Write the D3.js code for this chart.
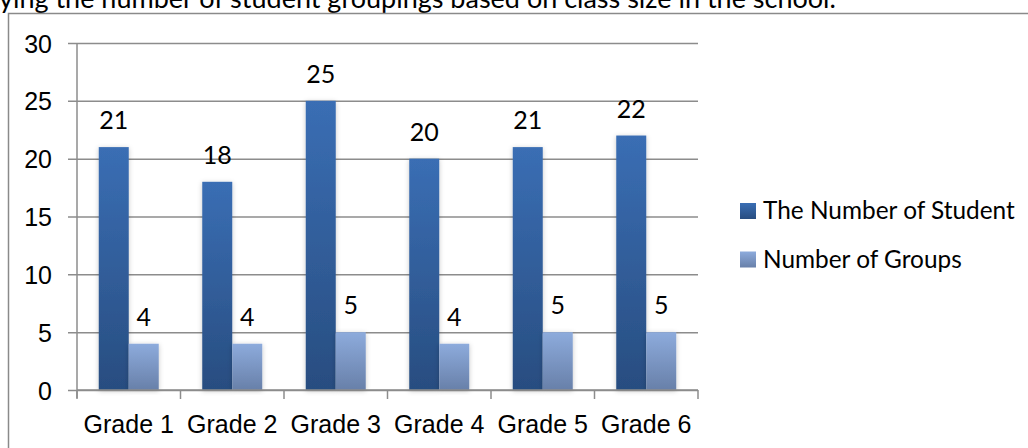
<!DOCTYPE html>
<html>
<head>
<meta charset="utf-8">
<script src="https://cdn.jsdelivr.net/npm/d3@7"></script>
<style>
  html, body { margin: 0; padding: 0; background: #fff; }
  svg { display: block; font-family: Lato, "Open Sans", sans-serif; }
  text { fill: #000; }
</style>
</head>
<body>
<div id="chart"></div>
<script>
// Clustered column chart: students vs groups per grade.
var grades = ["Grade 1", "Grade 2", "Grade 3", "Grade 4", "Grade 5", "Grade 6"];
var students = [21, 18, 25, 20, 21, 22];
var groups = [4, 4, 5, 4, 5, 5];
var seriesNames = ["The Number of Student", "Number of Groups"];
var yTicks = [0, 5, 10, 15, 20, 25, 30];
var caption = "ying the number of student groupings based on class size in the school.";

(function () {
  var W = 1028, H = 448;
  var plot = { left: 77, right: 698, top: 43, bottom: 390 };
  var FS = 25;

  var svg = d3.select("#chart").append("svg")
    .attr("width", W).attr("height", H);

  var defs = svg.append("defs");
  function grad(id, top, bottom) {
    var g = defs.append("linearGradient").attr("id", id)
      .attr("x1", 0).attr("y1", 0).attr("x2", 0).attr("y2", 1);
    g.append("stop").attr("offset", "0%").attr("stop-color", top);
    g.append("stop").attr("offset", "100%").attr("stop-color", bottom);
  }
  grad("g-dark", "#3a6eb4", "#284d80");
  grad("g-light", "#8dabdc", "#6880a9");
  var fills = ["url(#g-dark)", "url(#g-light)"];

  var f = defs.append("filter").attr("id", "shadow")
    .attr("x", "-30%").attr("y", "-10%").attr("width", "160%").attr("height", "120%");
  f.append("feDropShadow").attr("dx", 0).attr("dy", 1).attr("stdDeviation", 2.5)
    .attr("flood-color", "#000").attr("flood-opacity", 0.22);

  // caption line cut off above the chart frame
  svg.append("text").attr("x", -1).attr("y", 8)
    .style("font-size", "27px").text(caption);

  // chart frame
  svg.append("rect").attr("x", 8.5).attr("y", 13.5)
    .attr("width", W + 10).attr("height", H + 10)
    .attr("fill", "none").attr("stroke", "#8a8a8a").attr("stroke-width", 1.5);

  var x = d3.scaleBand().domain(grades).range([plot.left, plot.right]);
  var y = d3.scaleLinear().domain([0, 30]).range([plot.bottom, plot.top]);
  var barW = 30;
  var inner = d3.scaleBand().domain([0, 1]).range([0, barW * 2]);
  var pad = (x.bandwidth() - barW * 2) / 2;

  // gridlines + y axis
  var yAxis = d3.axisLeft(y).tickValues(yTicks)
    .tickSize(-(plot.right - plot.left)).tickPadding(16).tickFormat(d3.format("d"));
  var ga = svg.append("g").attr("transform", "translate(" + plot.left + ",0)").call(yAxis);
  ga.select(".domain").remove();
  ga.selectAll(".tick line").attr("stroke", "#8c8c8c").attr("stroke-width", 1.5)
    .attr("x1", -9);
  ga.selectAll(".tick text").style("font-size", FS + "px").attr("fill", "#000")
    .attr("font-family", null).attr("dy", "0.36em").attr("x", -25);

  svg.append("line").attr("x1", plot.left).attr("x2", plot.left)
    .attr("y1", plot.top).attr("y2", plot.bottom + 8)
    .attr("stroke", "#8c8c8c").attr("stroke-width", 1.5);

  // bars
  var series = [students, groups];
  series.forEach(function (vals, si) {
    svg.append("g").selectAll("rect").data(vals).join("rect")
      .attr("x", function (d, i) { return x(grades[i]) + pad + inner(si); })
      .attr("width", barW)
      .attr("y", function (d) { return y(d); })
      .attr("height", function (d) { return y(0) - y(d); })
      .attr("fill", fills[si])
      .attr("filter", "url(#shadow)");
  });
  series.forEach(function (vals, si) {
    svg.append("g").selectAll("text").data(vals).join("text")
      .attr("x", function (d, i) { return x(grades[i]) + pad + inner(si) + barW / 2; })
      .attr("y", function (d) { return y(d) - 18; })
      .attr("text-anchor", "middle")
      .style("font-size", FS + "px")
      .text(function (d) { return d; });
  });

  // x axis
  var xAxis = d3.axisBottom(x).tickSize(0).tickPadding(0);
  var gx = svg.append("g").attr("transform", "translate(0," + plot.bottom + ")").call(xAxis);
  gx.select(".domain").attr("stroke", "#8c8c8c").attr("stroke-width", 1.5)
    .attr("d", "M" + plot.left + ",0H" + plot.right);
  gx.selectAll(".tick text").style("font-size", FS + "px").attr("fill", "#000")
    .attr("font-family", null).attr("y", 43).attr("dy", 0);
  var bounds = grades.map(function (g) { return x(g); }).concat([plot.right]);
  gx.selectAll(".bound").data(bounds).join("line").attr("class", "bound")
    .attr("x1", function (d) { return d; }).attr("x2", function (d) { return d; })
    .attr("y1", 0).attr("y2", 9)
    .attr("stroke", "#8c8c8c").attr("stroke-width", 1.5);

  // legend
  var lg = svg.append("g").attr("transform", "translate(740,203)");
  var item = lg.selectAll("g").data(seriesNames).join("g")
    .attr("transform", function (d, i) { return "translate(0," + i * 48.5 + ")"; });
  item.append("rect").attr("width", 16).attr("height", 16)
    .attr("fill", function (d, i) { return i ? "url(#g-light)" : "url(#g-dark)"; });
  item.append("text").attr("x", 23).attr("y", 16)
    .style("font-size", "24.4px").text(function (d) { return d; });
})();
</script>
</body>
</html>
